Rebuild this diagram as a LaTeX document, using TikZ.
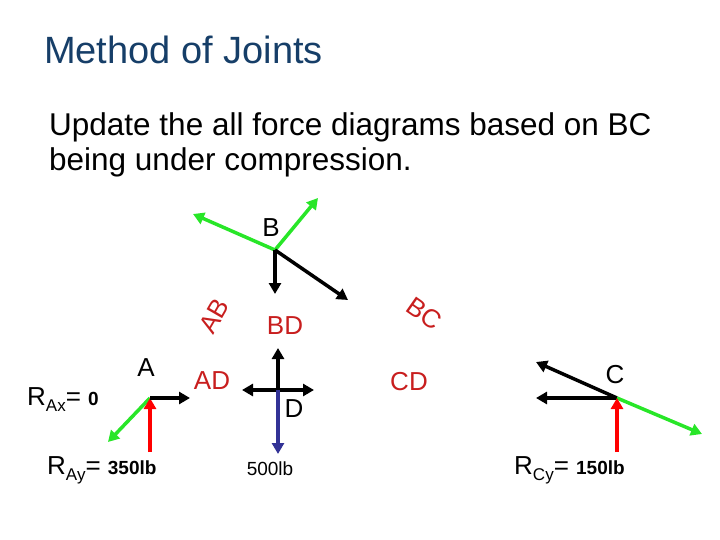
\documentclass[tikz,border=0pt]{standalone}
\usepackage{fontspec}
\setmainfont{Liberation Sans}
\usetikzlibrary{arrows.meta}
\definecolor{titleblue}{RGB}{22,62,104}
\definecolor{lblred}{RGB}{200,30,30}
\definecolor{gr}{RGB}{40,230,40}
\definecolor{bl}{RGB}{50,50,150}
\begin{document}
\begin{tikzpicture}[x=1pt,y=-1pt,
  frc/.style={line width=3.5pt,-{Triangle[length=11pt,width=12pt]}},
  grn/.style={frc,draw=gr},
  blk/.style={frc,draw=black},
  rd/.style={frc,draw=red},
  lbl/.style={font=\fontsize{26}{28}\selectfont,inner sep=0pt},
  mem/.style={lbl,text=lblred},
  val/.style={font=\fontsize{19}{21}\selectfont,inner sep=0pt}]
\useasboundingbox (0,0) rectangle (720,540);
\node[anchor=west,text=titleblue,font=\fontsize{38}{42}\selectfont,inner sep=0pt] (title) at (44,50) {Method of Joints};
\node[anchor=north west,align=left,font=\fontsize{31.5}{35}\selectfont,inner sep=0pt] (txt) at (49,112) {Update the all force diagrams based on BC\\being under compression.};
% joint B
\coordinate (B) at (275,250);
\coordinate (b1) at (193,214); \coordinate (b2) at (318,198);
\coordinate (b3) at (275,294); \coordinate (b4) at (348,300);
\draw[grn] (B) -- (b1); \draw[grn] (B) -- (b2);
\draw[blk] (B) -- (b3); \draw[blk] (B) -- (b4);
\node[lbl] (Blab) at (271,228) {B};
\node[mem,rotate=60] (AB) at (214,316) {AB};
\node[mem] (BD) at (285,326) {BD};
\node[mem,rotate=-35] (BC) at (424,314) {BC};
% joint A
\coordinate (A) at (150,398);
\coordinate (a1) at (108,442); \coordinate (a2) at (150,452); \coordinate (a3) at (190,398);
\draw[grn] (A) -- (a1); \draw[rd] (a2) -- (A); \draw[blk] (A) -- (a3);
\node[lbl] (Alab) at (146,368) {A};
\node[anchor=west,inner sep=0pt] (RAx) at (27,400) {\fontsize{26}{28}\selectfont R\raisebox{-6pt}{\fontsize{17}{19}\selectfont Ax}= \fontsize{19}{21}\selectfont\bfseries 0};
\node[anchor=west,inner sep=0pt] (RAy) at (47,470) {\fontsize{26}{28}\selectfont R\raisebox{-6pt}{\fontsize{17}{19}\selectfont Ay}= \fontsize{19}{21}\selectfont\bfseries 350lb};
\node[mem] (AD) at (212,381) {AD};
% joint D
\coordinate (D) at (278,390);
\coordinate (d1) at (278,348); \coordinate (d2) at (242,390); \coordinate (d3) at (314,390); \coordinate (d4) at (278,454);
\draw[blk] (D) -- (d1); \draw[blk] (D) -- (d2); \draw[blk] (D) -- (d3);
\draw[frc,draw=bl] (D) -- (d4);
\node[lbl] (Dlab) at (294,409) {D};
\node[val] (w) at (270,469) {500lb};
\node[mem] (CD) at (409,382) {CD};
% joint C
\coordinate (C) at (617,398);
\coordinate (c1) at (536,362); \coordinate (c2) at (536,398); \coordinate (c3) at (702,434); \coordinate (c4) at (617,452);
\draw[blk] (C) -- (c1); \draw[blk] (C) -- (c2); \draw[grn] (C) -- (c3); \draw[rd] (c4) -- (C);
\node[lbl] (Clab) at (615,375) {C};
\node[anchor=west,inner sep=0pt] (RCy) at (514,470) {\fontsize{26}{28}\selectfont R\raisebox{-6pt}{\fontsize{17}{19}\selectfont Cy}= \fontsize{19}{21}\selectfont\bfseries 150lb};
\end{tikzpicture}
\end{document}
